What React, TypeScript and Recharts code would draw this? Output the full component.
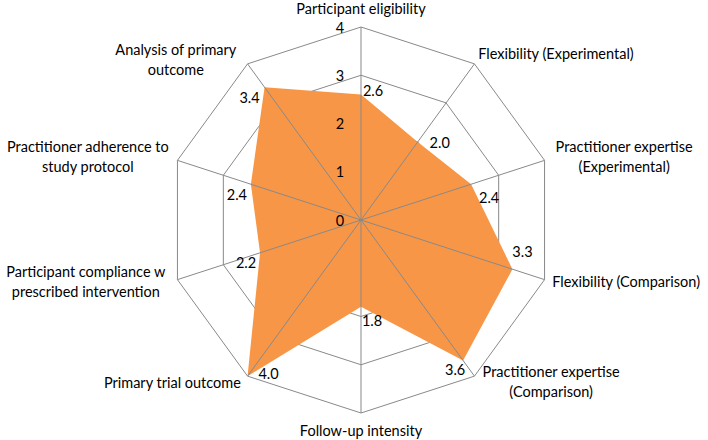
import { RadarChart, Radar, PolarGrid, PolarAngleAxis, PolarRadiusAxis, LabelList } from "recharts";

const categories = [
  "Participant eligibility",
  "Flexibility (Experimental)",
  "Practitioner expertise (Experimental)",
  "Flexibility (Comparison)",
  "Practitioner expertise (Comparison)",
  "Follow-up intensity",
  "Primary trial outcome",
  "Participant compliance w prescribed intervention",
  "Practitioner adherence to study protocol",
  "Analysis of primary outcome",
];

const categoryLines = [
  ["Participant eligibility"],
  ["Flexibility (Experimental)"],
  ["Practitioner expertise", "(Experimental)"],
  ["Flexibility (Comparison)"],
  ["Practitioner expertise", "(Comparison)"],
  ["Follow-up intensity"],
  ["Primary trial outcome"],
  ["Participant compliance w", "prescribed intervention"],
  ["Practitioner adherence to", "study protocol"],
  ["Analysis of primary", "outcome"],
];

const scores = [2.6, 2.0, 2.4, 3.3, 3.6, 1.8, 4.0, 2.2, 2.4, 3.4];
const scoreLabels = ["2.6", "2.0", "2.4", "3.3", "3.6", "1.8", "4.0", "2.2", "2.4", "3.4"];
const radiusTicks = [0, 1, 2, 3, 4];

const data = categories.map((c, i) => ({ name: c, value: scores[i] }));

// label placement tweaks (relative to library-computed tick / point)
const catLayout: { anchor: "start" | "middle" | "end"; dx: number; dy: number }[] = [
  { anchor: "middle", dx: 0, dy: -11 },
  { anchor: "start", dx: -1, dy: -4 },
  { anchor: "middle", dx: 72, dy: -11 },
  { anchor: "start", dx: 0, dy: -1 },
  { anchor: "middle", dx: 72, dy: -11 },
  { anchor: "middle", dx: 0, dy: 9 },
  { anchor: "end", dx: -2, dy: 0 },
  { anchor: "middle", dx: -84, dy: -11 },
  { anchor: "middle", dx: -82, dy: -11 },
  { anchor: "middle", dx: -67, dy: -8 },
];

const valueOffsets = [
  [12, -4], [22, 1], [18, 13], [10, -18], [-8, 9],
  [11, 14], [21, -3], [-14, 10], [-14, 10], [-15, 10],
];

const FONT = "Lato, 'Open Sans', sans-serif";
const FS = 14.5;
const W = 708;
const H = 440;
const CX = 361;
const CY = 220;
const R = 193;

const AngleTick = (props: any) => {
  const { x, y, index } = props;
  const lay = catLayout[index];
  const lines = categoryLines[index];
  return (
    <g>
      {lines.map((l, i) => (
        <text
          key={i}
          x={x + lay.dx}
          y={y + lay.dy + i * 20}
          textAnchor={lay.anchor}
          dominantBaseline="central"
          fontSize={FS}
          fill="#000"
          fontFamily={FONT}
        >
          {l}
        </text>
      ))}
    </g>
  );
};

const RadiusTick = (props: any) => {
  const { x, y, payload } = props;
  return (
    <text x={x - 21} y={y} textAnchor="middle" dominantBaseline="central" fontSize={FS} fill="#000" fontFamily={FONT}>
      {payload.value}
    </text>
  );
};

const ValueLabel = (props: any) => {
  const { x, y, index, value } = props;
  const [dx, dy] = valueOffsets[index];
  return (
    <text x={x + dx} y={y + dy} textAnchor="middle" dominantBaseline="central" fontSize={FS} fill="#000" fontFamily={FONT}>
      {scoreLabels[index] ?? value}
    </text>
  );
};

export default function App() {
  return (
    <div style={{ position: "absolute", left: 0, top: 0, width: W, height: H, background: "#fff", fontFamily: FONT }}>
      <style>{".recharts-surface { overflow: visible; }"}</style>
      {/* rings, then filled area */}
      <div style={{ position: "absolute", left: 0, top: 0 }}>
        <RadarChart width={W} height={H} data={data} cx={CX} cy={CY} outerRadius={R} margin={{ top: 0, right: 0, bottom: 0, left: 0 }}>
          <PolarGrid gridType="polygon" radialLines={false} stroke="#898989" strokeWidth={1} />
          <PolarAngleAxis dataKey="name" tick={false} tickLine={false} axisLine={false} />
          <PolarRadiusAxis angle={90} domain={[0, 4]} ticks={radiusTicks as any} tickCount={5} tick={false} axisLine={false} />
          <Radar dataKey="value" fill="#F79646" fillOpacity={1} stroke="none" isAnimationActive={false} />
        </RadarChart>
      </div>
      {/* spokes, axes and labels on top */}
      <div style={{ position: "absolute", left: 0, top: 0 }}>
        <RadarChart width={W} height={H} data={data} cx={CX} cy={CY} outerRadius={R} margin={{ top: 0, right: 0, bottom: 0, left: 0 }}>
          <PolarGrid gridType="polygon" polarRadius={[0]} stroke="#898989" strokeWidth={1} />
          <PolarAngleAxis dataKey="name" tick={AngleTick} tickLine={false} axisLine={false} />
          <PolarRadiusAxis angle={90} domain={[0, 4]} ticks={radiusTicks as any} tickCount={5} axisLine={false} tick={RadiusTick} />
          <Radar dataKey="value" fill="none" fillOpacity={0} stroke="none" isAnimationActive={false}>
            <LabelList dataKey="value" content={ValueLabel} />
          </Radar>
        </RadarChart>
      </div>
    </div>
  );
}
